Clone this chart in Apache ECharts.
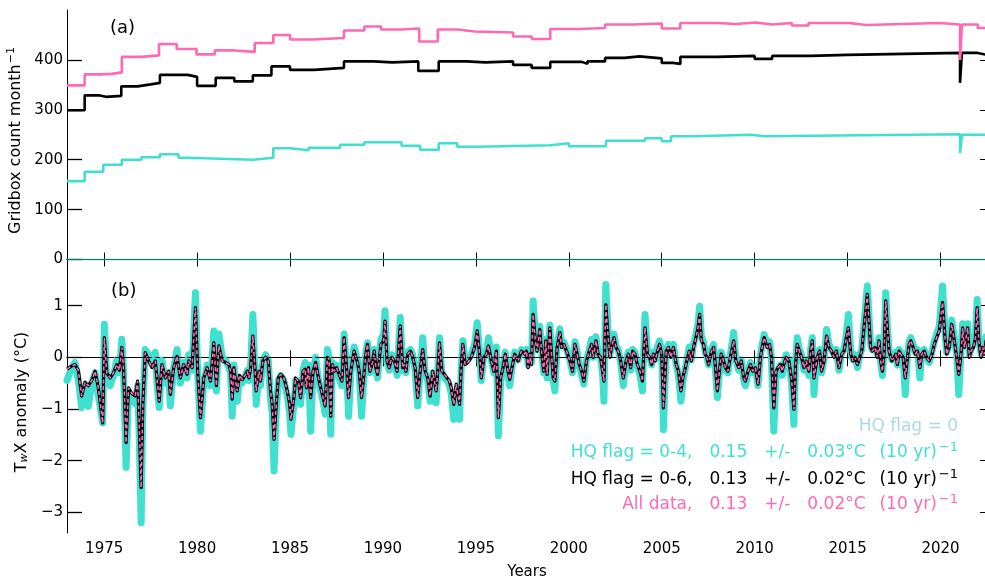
<!DOCTYPE html>
<html>
<head>
<meta charset="utf-8">
<script src="https://cdn.jsdelivr.net/npm/echarts@6/dist/echarts.min.js"></script>
<style>
  html, body { margin: 0; padding: 0; background: #fff; }
  #main { width: 985px; height: 581px; }
</style>
</head>
<body>
<div id="main"></div>
<script>
// ---- panel (a): gridbox counts, [year, count] at each step change ----
var countAll = [[1973.0, 349], [1973.95, 371], [1974.8, 372], [1975.4, 375], [1975.95, 406], [1977.0, 409], [1977.95, 432], [1978.9, 422], [1979.97, 411], [1980.95, 419], [1982.0, 416], [1983.1, 434], [1984.1, 450], [1985.0, 441], [1986.2, 444], [1987.9, 459], [1989.0, 467], [1989.9, 461], [1991.0, 463], [1991.95, 437], [1992.95, 461], [1994.0, 457], [1994.93, 455], [1997.0, 447], [1998.0, 442], [1999.0, 462], [2000.5, 464], [2001.95, 471], [2003.5, 473], [2005.0, 463], [2006.0, 474], [2008.0, 472], [2009.0, 475], [2010.04, 471], [2010.94, 474], [2012.0, 469], [2012.9, 474], [2015.08, 470], [2016.0, 474], [2019.93, 471], [2021.05, 400], [2021.15, 471], [2022.0, 464], [2022.5, 464]];
var countHq06 = [[1973.0, 299], [1973.95, 329], [1974.7, 326], [1975.1, 328], [1975.92, 347], [1976.8, 351], [1977.5, 354], [1978.0, 370], [1979.5, 366], [1980.0, 348], [1981.0, 364], [1982.0, 357], [1983.0, 369], [1984.0, 387], [1985.0, 380], [1986.3, 384], [1987.9, 397], [1989.5, 395], [1990.5, 397], [1991.9, 378], [1993.0, 397], [1994.5, 395], [1995.5, 397], [1997.0, 390], [1998.0, 384], [1999.0, 396], [2000.7, 392], [2001.0, 397], [2001.95, 404], [2003.0, 407], [2003.8, 403], [2005.0, 394], [2005.6, 392], [2006.0, 406], [2008.0, 408], [2010.0, 402], [2010.94, 408], [2013.0, 410], [2015.0, 414], [2021.05, 354], [2021.15, 414], [2022.0, 410], [2022.5, 410]];
var countHq04 = [[1973.0, 157], [1973.95, 176], [1974.95, 190], [1975.95, 200], [1977.0, 205], [1978.0, 211], [1979.0, 204], [1979.5, 200], [1983.0, 204], [1984.1, 223], [1985.0, 219], [1986.0, 224], [1987.7, 230], [1989.0, 235], [1991.0, 228], [1992.0, 220], [1993.0, 233], [1994.0, 226], [1995.1, 229], [1999.0, 233], [2000.0, 227], [2002.0, 238], [2004.1, 243], [2005.0, 237], [2005.5, 247], [2006.8, 250], [2009.8, 247], [2010.5, 251], [2021.05, 213], [2021.15, 250], [2022.5, 251]];
var countHq0 = [[1973.0, 0], [2022.5, 0]];

// ---- panel (b): TwX anomaly (degC) ----
var anomYears = [
  1973.00,1973.20,1973.43,1973.61,1973.79,1973.97,1974.15,1974.33,1974.51,1974.69,
  1974.92,1975.01,1975.14,1975.32,1975.50,1975.68,1975.82,1975.95,1976.04,1976.18,
  1976.31,1976.49,1976.67,1976.80,1976.88,1976.99,1977.08,1977.21,1977.39,1977.57,
  1977.75,1977.84,1977.96,1978.11,1978.29,1978.47,1978.56,1978.74,1978.92,1979.10,
  1979.28,1979.46,1979.55,1979.73,1979.91,1980.03,1980.18,1980.36,1980.54,1980.72,
  1980.90,
  1981.04,1981.17,1981.35,1981.53,1981.71,1981.80,1981.89,1981.98,1982.07,1982.16,
  1982.28,1982.43,1982.61,1982.70,1982.79,1982.88,1983.00,1983.11,1983.18,1983.33,
  1983.41,1983.54,1983.69,1983.83,1983.95,1984.04,1984.14,1984.26,1984.37,1984.50,
  1984.67,1984.76,1984.85,1984.98,1985.05,1985.21,1985.30,1985.45,1985.57,1985.70,
  1985.81,1985.88,1985.99,1986.11,1986.24,1986.38,1986.53,1986.65,1986.78,1986.89,
  1987.01,1987.10,1987.19,1987.28,1987.37,1987.50,1987.64,1987.79,1987.91,1988.04,
  1988.15,1988.27,1988.36,1988.45,1988.63,1988.72,1988.85,1988.99,1989.08,1989.17,
  1989.30,
  1989.44,1989.53,1989.62,1989.71,1989.89,1990.04,1990.11,1990.22,1990.34,1990.47,
  1990.61,1990.76,1990.93,1991.06,1991.15,1991.24,1991.33,1991.48,1991.60,1991.73,
  1991.87,1992.00,1992.14,1992.27,1992.41,1992.54,1992.68,1992.77,1992.86,1992.95,
  1993.04,1993.17,1993.31,1993.45,1993.58,1993.67,1993.81,1993.94,1994.03,1994.12,
  1994.21,1994.30,1994.42,1994.57,1994.75,1994.93,1995.07,1995.20,1995.29,1995.43,
  1995.56,1995.68,1995.83,1995.97,1996.10,1996.21,1996.33,1996.46,1996.58,1996.73,
  1996.82,1996.94,1997.09,1997.27,1997.45,1997.63,
  1997.72,1997.81,1997.90,1997.99,1998.08,1998.20,1998.29,1998.44,1998.53,1998.65,
  1998.76,1998.83,1998.98,1999.07,1999.16,1999.25,1999.37,1999.52,1999.61,1999.73,
  1999.88,2000.06,2000.20,2000.33,2000.45,2000.56,2000.69,2000.81,2000.95,2001.10,
  2001.22,2001.31,2001.46,2001.58,2001.71,2001.82,2001.89,2001.99,2002.12,2002.21,
  2002.30,2002.43,2002.54,2002.66,2002.79,2002.93,2003.08,2003.20,2003.33,2003.44,
  2003.56,2003.69,2003.83,2003.96,2004.10,2004.23,2004.34,2004.46,2004.55,2004.64,
  2004.77,2004.88,2005.00,2005.09,2005.24,2005.36,2005.49,2005.63,2005.78,2005.90,
  2006.03,2006.17,
  2006.23,2006.35,2006.48,2006.59,2006.71,2006.84,2006.95,2007.04,2007.13,2007.25,
  2007.34,2007.43,2007.52,2007.67,2007.79,2007.88,2007.99,2008.10,2008.20,2008.33,
  2008.42,2008.56,2008.69,2008.87,2008.99,2009.14,2009.28,2009.41,2009.50,2009.64,
  2009.77,2009.90,2010.04,2010.18,2010.31,2010.40,2010.51,2010.67,2010.80,2010.90,
  2011.03,2011.15,2011.26,2011.39,2011.48,2011.57,2011.69,2011.84,2011.98,2012.11,
  2012.20,2012.29,2012.41,2012.52,2012.65,2012.77,2012.92,2013.01,2013.10,2013.19,
  2013.28,2013.37,2013.49,2013.60,2013.73,2013.87,2014.00,2014.14,2014.27,2014.39,
  2014.54,
  2014.68,2014.81,2014.93,2015.04,2015.17,2015.29,2015.40,2015.53,2015.65,2015.76,
  2015.88,2015.97,2016.06,2016.15,2016.24,2016.33,2016.48,2016.60,2016.69,2016.78,
  2016.87,2016.96,2017.05,2017.14,2017.23,2017.38,2017.50,2017.59,2017.68,2017.77,
  2017.86,2017.99,2018.10,2018.22,2018.31,2018.40,2018.53,2018.64,2018.76,2018.89,
  2018.99,2019.12,2019.25,2019.39,2019.54,2019.66,2019.79,2019.93,2020.11,2020.24,
  2020.33,2020.47,2020.60,2020.74,2020.87,2020.98,2021.10,2021.19,2021.28,2021.37,
  2021.46,2021.55,2021.64,2021.77,2021.88,2021.97,2022.06,2022.18,2022.27,2022.36,
  2022.45,2022.54
];
// HQ flag 0-6
var anomHq06 = [
  -0.23,-0.18,-0.14,-0.25,-0.75,-0.48,-0.55,-0.45,-0.27,-0.60,
  -1.27,0.38,-0.30,-0.40,-0.30,-0.14,-0.25,0.19,-0.20,-1.65,
  -0.59,-0.70,-0.75,-0.46,-1.23,-2.52,-0.91,0.09,-0.07,-0.20,
  -0.07,-0.40,-0.85,-0.14,-0.40,-0.27,-0.72,-0.20,0.02,-0.40,
  -0.14,-0.33,-0.07,-0.20,0.96,-0.27,-1.17,-0.40,-0.20,-0.46,
  0.28,
  -0.55,0.22,-0.07,-0.10,-0.14,-0.27,-0.81,-0.20,-0.46,-0.65,
  -0.35,-0.43,-0.33,-0.27,-0.40,-0.20,0.41,-0.20,-0.65,-0.27,
  -0.46,-0.07,0.00,-0.07,-0.65,-0.91,-1.59,-0.91,-0.40,-0.33,
  -0.40,-0.52,-0.65,-0.91,-1.20,-0.78,-0.40,-0.46,-0.78,-0.27,
  -0.23,-0.59,-0.20,-0.78,-0.27,-0.10,-0.40,-0.59,-0.78,-0.94,
  0.00,-0.04,-1.14,-0.14,-0.27,-0.20,-0.33,-0.46,0.38,-0.20,
  -0.78,-0.27,-0.07,0.12,-0.10,-0.27,-0.78,-0.27,0.06,0.25,
  -0.27,
  -0.10,0.12,-0.20,-0.33,0.25,0.32,0.70,-0.07,-0.20,0.00,
  -0.07,-0.27,0.61,-0.20,-0.14,-0.27,0.06,0.12,0.00,-0.20,
  -0.78,-0.27,0.15,-0.27,-0.40,-0.75,-0.27,-0.46,-0.65,-0.27,
  0.28,-0.27,-0.33,-0.40,-0.46,-0.59,-0.91,-0.52,-0.72,-0.91,
  -0.20,0.25,-0.14,-0.10,0.00,0.19,0.51,0.06,-0.40,0.00,
  0.06,0.22,-0.07,-0.27,0.12,-1.17,-0.40,-0.20,0.06,-0.27,
  -0.43,-0.20,0.06,-0.07,0.12,0.06,
  0.12,-0.20,0.06,-0.14,0.83,0.32,0.12,0.54,0.12,-0.27,
  0.32,-0.33,0.57,0.06,-0.40,-0.46,0.19,0.48,0.19,0.25,
  0.12,-0.07,-0.27,0.25,0.06,-0.14,-0.27,-0.46,-0.07,0.12,
  0.25,0.00,0.32,0.06,0.00,-0.27,-0.46,1.02,0.38,0.00,
  0.19,0.38,0.19,0.12,-0.07,-0.40,-0.07,0.06,-0.20,0.12,
  0.06,-0.14,-0.27,-0.46,0.57,0.06,0.00,-0.14,0.06,-0.07,
  0.12,0.25,0.06,-0.98,0.12,0.19,0.00,0.19,-0.14,-0.27,
  -0.65,-0.33,
  -0.27,-0.07,0.12,-0.07,0.19,0.38,0.57,0.83,0.32,0.25,
  0.06,0.00,-0.14,0.12,0.19,-0.14,-0.65,-0.27,0.06,-0.07,
  -0.20,-0.27,0.00,0.32,-0.07,-0.20,-0.07,-0.40,-0.46,-0.27,
  -0.14,-0.27,-0.20,-0.52,0.00,0.19,0.38,0.19,0.25,0.00,
  -0.98,-0.27,-0.20,-0.14,-0.27,-0.14,0.00,-0.07,-0.40,-1.01,
  -0.14,0.25,0.12,0.00,-0.20,-0.07,-0.27,0.12,0.32,-0.40,
  -0.20,0.00,0.12,-0.27,-0.07,0.41,0.19,0.12,0.00,0.12,
  -0.20,
  0.06,0.12,0.38,0.57,0.06,-0.07,0.00,-0.14,0.00,0.12,
  0.57,0.89,1.22,0.70,0.19,0.12,0.19,0.00,0.32,-0.07,
  -0.27,0.06,1.09,0.57,0.12,-0.07,0.00,0.06,-0.14,0.12,
  0.06,0.00,-0.40,0.00,0.25,0.32,0.19,0.06,0.12,-0.20,
  0.06,0.12,0.00,-0.07,0.06,0.25,0.38,0.51,1.06,0.38,
  0.06,0.19,0.64,0.32,0.00,-0.33,0.06,0.57,0.19,0.38,
  0.57,0.00,0.12,0.19,0.38,0.96,0.32,0.00,0.19,0.06,
  0.32,0.12
];
// HQ flag 0-4
var anomHq04 = [
  -0.45,-0.25,-0.10,-0.45,-0.97,-0.55,-0.95,-0.50,-0.30,-0.75,
  -1.27,0.64,-0.40,-0.55,-0.35,-0.05,-0.30,0.35,-0.25,-2.13,
  -0.70,-0.80,-0.90,-0.55,-1.43,-3.20,-1.00,0.15,0.05,-0.10,
  0.10,-0.50,-0.97,-0.05,-0.50,-0.30,-0.94,-0.20,0.15,-0.50,
  -0.10,-0.40,0.05,-0.25,1.25,-0.30,-1.43,-0.50,-0.15,-0.55,
  0.51,
  -0.65,0.45,0.00,-0.05,-0.20,-0.30,-1.14,-0.15,-0.55,-0.85,
  -0.40,-0.50,-0.35,-0.25,-0.45,-0.15,0.83,-0.25,-0.91,-0.30,
  -0.55,-0.05,0.05,-0.05,-0.80,-1.10,-2.20,-1.05,-0.45,-0.35,
  -0.45,-0.60,-0.75,-1.10,-1.49,-0.90,-0.45,-0.50,-0.91,-0.25,
  -0.10,-0.65,-0.15,-1.43,-0.30,0.00,-0.45,-0.65,-0.85,-1.10,
  0.15,0.00,-1.49,-0.10,-0.30,-0.15,-0.40,-0.55,0.45,-0.20,
  -1.14,-0.30,0.00,0.20,-0.05,-0.30,-1.14,-0.30,0.10,0.28,
  -0.30,
  -0.05,0.15,-0.20,-0.40,0.35,0.45,0.90,-0.10,-0.25,0.05,
  -0.05,-0.35,0.77,-0.25,-0.10,-0.30,0.10,0.15,0.05,-0.25,
  -0.94,-0.30,0.38,-0.30,-0.45,-0.85,-0.30,-0.50,-0.88,-0.25,
  0.38,-0.30,-0.40,-0.45,-0.55,-0.70,-1.20,-0.65,-0.85,-1.20,
  -0.20,0.32,-0.10,-0.05,0.05,0.25,0.67,0.10,-0.45,0.05,
  0.10,0.38,-0.05,-0.30,0.20,-1.52,-0.50,-0.20,0.10,-0.35,
  -0.55,-0.20,0.10,-0.05,0.15,0.10,
  0.15,-0.15,0.10,-0.10,1.09,0.40,0.15,0.60,0.15,-0.30,
  0.35,-0.40,0.62,0.10,-0.45,-0.65,0.25,0.55,0.22,0.30,
  0.15,-0.05,-0.30,0.30,0.10,-0.15,-0.35,-0.52,-0.05,0.15,
  0.35,0.00,0.40,0.10,0.00,-0.35,-0.85,1.41,0.45,0.05,
  0.25,0.45,0.22,0.15,-0.10,-0.55,-0.05,0.10,-0.25,0.15,
  0.10,-0.15,-0.35,-0.65,0.83,0.10,0.05,-0.15,0.10,-0.05,
  0.20,0.32,0.10,-1.40,0.15,0.25,0.05,0.25,-0.15,-0.35,
  -0.85,-0.40,
  -0.30,-0.05,0.20,-0.05,0.25,0.45,0.65,0.99,0.40,0.30,
  0.10,0.00,-0.15,0.15,0.25,-0.20,-0.78,-0.30,0.10,-0.05,
  -0.25,-0.30,0.05,0.48,-0.05,-0.25,-0.05,-0.45,-0.55,-0.30,
  -0.10,-0.30,-0.20,-0.55,0.05,0.25,0.44,0.25,0.30,0.00,
  -1.43,-0.35,-0.25,-0.15,-0.35,-0.15,0.05,-0.05,-0.50,-1.30,
  -0.10,0.38,0.15,0.05,-0.25,-0.05,-0.35,0.15,0.38,-0.72,
  -0.25,0.05,0.15,-0.30,-0.05,0.54,0.25,0.15,0.05,0.15,
  -0.25,
  0.10,0.15,0.45,0.83,0.10,-0.05,0.05,-0.20,0.05,0.15,
  0.65,1.00,1.38,0.80,0.25,0.15,0.22,0.05,0.38,-0.10,
  -0.35,0.10,1.25,0.60,0.15,-0.05,0.05,0.10,-0.15,0.15,
  0.10,0.00,-0.72,0.05,0.30,0.38,0.25,0.10,0.15,-0.40,
  0.10,0.15,0.00,-0.10,0.10,0.30,0.45,0.60,1.38,0.45,
  0.10,0.25,0.72,0.38,0.05,-0.72,0.10,0.65,0.22,0.45,
  0.65,0.05,0.15,0.25,0.45,1.12,0.38,0.05,0.25,0.10,
  0.40,0.15
];
// all data: sits on the 0-6 curve at this resolution
var anomAll = anomHq06;

var yearTicks = [1975, 1980, 1985, 1990, 1995, 2000, 2005, 2010, 2015, 2020];
var countTicks = [0, 100, 200, 300, 400];
var anomTicks = [-3, -2, -1, 0, 1];

var FONT = 'DejaVu Sans';
var PINK = '#ff69b4', TURQ = '#40e0d0', LBLUE = '#add8e6';
var GAP = '\u2002\u2002';   // wide gap as in the original annotation

function pairs(xs, ys) {
    var out = [];
    for (var i = 0; i < xs.length; i++) out.push([xs[i], ys[i]]);
    return out;
}
function minusFmt(v) { return String(v).replace('-', '\u2212'); }
function plainFmt(v) { return String(v); }

var dom = document.getElementById('main');
var myChart = echarts.init(dom, null, { renderer: 'canvas' });

var axLine = { show: true, lineStyle: { color: '#000', width: 1 } };
var supRich = {
    n: { fontFamily: FONT, fontSize: 17 },
    sup: { fontFamily: FONT, fontSize: 13, padding: [0, 0, 10, 2] }
};

function legendText(top, label, rate, err, color) {
    var body = label + ',' + GAP + rate + GAP + '+/-' + GAP + err + '\u00B0C\u2002 (10 yr)';
    return {
        type: 'text', right: 27, top: top,
        style: { text: '{n|' + body + '}{sup|\u22121}', fill: color, align: 'right', rich: supRich }
    };
}

var option = {
    animation: false,
    backgroundColor: '#fff',
    grid: [
        { left: 67, top: 10, right: -2, height: 261, outerBoundsMode: 'none' },
        { left: 67, top: 271, right: -2, height: 262, outerBoundsMode: 'none' }
    ],
    xAxis: [
        {   // panel a bottom
            type: 'value', gridIndex: 0, min: 1973, max: 2022.5,
            axisLine: axLine, splitLine: { show: false },
            axisTick: { inside: true, length: 7, customValues: yearTicks, lineStyle: { color: '#000' } },
            axisLabel: { show: false, customValues: yearTicks }
        },
        {   // panel a top
            type: 'value', gridIndex: 0, position: 'top', min: 1973, max: 2022.5,
            axisLine: axLine, splitLine: { show: false },
            axisTick: { inside: true, length: 7, customValues: yearTicks, lineStyle: { color: '#000' } },
            axisLabel: { show: false, customValues: yearTicks }
        },
        {   // panel b bottom
            type: 'value', gridIndex: 1, min: 1973, max: 2022.5,
            name: 'Years', nameLocation: 'middle', nameGap: 32,
            nameTextStyle: { fontFamily: FONT, fontSize: 15, color: '#000' },
            axisLine: axLine, splitLine: { show: false },
            axisTick: { inside: true, length: 7, customValues: yearTicks, lineStyle: { color: '#000' } },
            axisLabel: { customValues: yearTicks, margin: 9, fontFamily: FONT, fontSize: 15, color: '#000', formatter: plainFmt }
        },
        {   // panel b top
            type: 'value', gridIndex: 1, position: 'top', min: 1973, max: 2022.5,
            axisLine: axLine, splitLine: { show: false },
            axisTick: { inside: true, length: 9, customValues: yearTicks, lineStyle: { color: '#000' } },
            axisLabel: { show: false, customValues: yearTicks }
        }
    ],
    yAxis: [
        {
            type: 'value', gridIndex: 0, min: -23, max: 500,
            name: '{t|Gridbox count month}{s|\u22121}', nameLocation: 'middle', nameGap: 38,
            nameTextStyle: {
                fontFamily: FONT, fontSize: 16, color: '#000',
                rich: {
                    t: { fontFamily: FONT, fontSize: 16, color: '#000' },
                    s: { fontFamily: FONT, fontSize: 11, color: '#000', padding: [0, 0, 9, 1] }
                }
            },
            axisLine: axLine, splitLine: { show: false },
            axisTick: { inside: true, length: 15, customValues: countTicks, lineStyle: { color: '#000', width: 1.3 } },
            axisLabel: { customValues: countTicks, margin: 4, fontFamily: FONT, fontSize: 15, color: '#000' }
        },
        {
            type: 'value', gridIndex: 0, position: 'right', min: -23, max: 500,
            axisLine: { show: false }, splitLine: { show: false },
            axisTick: { inside: true, length: 7, customValues: countTicks, lineStyle: { color: '#000' } },
            axisLabel: { show: false, customValues: countTicks }
        },
        {
            type: 'value', gridIndex: 1, min: -3.4, max: 1.67,
            name: '{t|T}{s|w}{t|X anomaly (\u00B0C)}', nameLocation: 'middle', nameGap: 33,
            nameTextStyle: {
                fontFamily: FONT, fontSize: 16, color: '#000',
                rich: {
                    t: { fontFamily: FONT, fontSize: 16, color: '#000' },
                    s: { fontFamily: FONT, fontSize: 11, fontStyle: 'italic', color: '#000', padding: [6, 0, 0, 0] }
                }
            },
            axisLine: axLine, splitLine: { show: false },
            axisTick: { inside: true, length: 15, customValues: anomTicks, lineStyle: { color: '#000', width: 1.3 } },
            axisLabel: { customValues: anomTicks, margin: 4, fontFamily: FONT, fontSize: 15, color: '#000', formatter: minusFmt }
        },
        {
            type: 'value', gridIndex: 1, position: 'right', min: -3.4, max: 1.67,
            axisLine: { show: false }, splitLine: { show: false },
            axisTick: { inside: true, length: 7, customValues: anomTicks, lineStyle: { color: '#000' } },
            axisLabel: { show: false, customValues: anomTicks }
        }
    ],
    series: [
        // panel a
        { name: 'HQ flag = 0', type: 'line', xAxisIndex: 0, yAxisIndex: 0, data: countHq0, showSymbol: false,
          lineStyle: { color: 'rgba(64,224,208,0.5)', width: 2 } },
        { name: 'HQ flag = 0-4', type: 'line', xAxisIndex: 0, yAxisIndex: 0, data: countHq04, step: 'end', showSymbol: false,
          lineStyle: { color: TURQ, width: 2.6 } },
        { name: 'HQ flag = 0-6', type: 'line', xAxisIndex: 0, yAxisIndex: 0, data: countHq06, step: 'end', showSymbol: false,
          lineStyle: { color: '#000', width: 2.6 } },
        { name: 'All data', type: 'line', xAxisIndex: 0, yAxisIndex: 0, data: countAll, step: 'end', showSymbol: false,
          lineStyle: { color: PINK, width: 2.6 } },
        // panel b
        { name: 'HQ flag = 0-4 anomaly', type: 'line', xAxisIndex: 2, yAxisIndex: 2, data: pairs(anomYears, anomHq04), showSymbol: false,
          lineStyle: { color: TURQ, width: 7, join: 'round', cap: 'round' },
          markLine: { silent: true, symbol: 'none', label: { show: false }, data: [{ yAxis: 0 }],
                      lineStyle: { color: '#000', type: [5, 3], width: 1.2 } } },
        { name: 'HQ flag = 0-6 anomaly', type: 'line', xAxisIndex: 2, yAxisIndex: 2, data: pairs(anomYears, anomHq06), showSymbol: false,
          lineStyle: { color: '#000', width: 3.2, join: 'round' } },
        { name: 'All data anomaly', type: 'line', xAxisIndex: 2, yAxisIndex: 2, data: pairs(anomYears, anomAll), showSymbol: false,
          lineStyle: { color: PINK, width: 1.6, type: [4, 2.5] } }
    ],
    graphic: [
        { type: 'text', left: 110, top: 19, style: { text: '(a)', font: '18px "DejaVu Sans"', fill: '#000' } },
        { type: 'text', left: 111, top: 282, style: { text: '(b)', font: '18px "DejaVu Sans"', fill: '#000' } },
        { type: 'text', right: 27, top: 418, style: { text: 'HQ flag = 0', font: '17px "DejaVu Sans"', fill: LBLUE, align: 'right' } },
        legendText(441, 'HQ flag = 0-4', '0.15', '0.03', TURQ),
        legendText(468, 'HQ flag = 0-6', '0.13', '0.02', '#000'),
        legendText(493, 'All data', '0.13', '0.02', PINK)
    ]
};
myChart.setOption(option);
window.addEventListener('resize', myChart.resize);
</script>
</body>
</html>
